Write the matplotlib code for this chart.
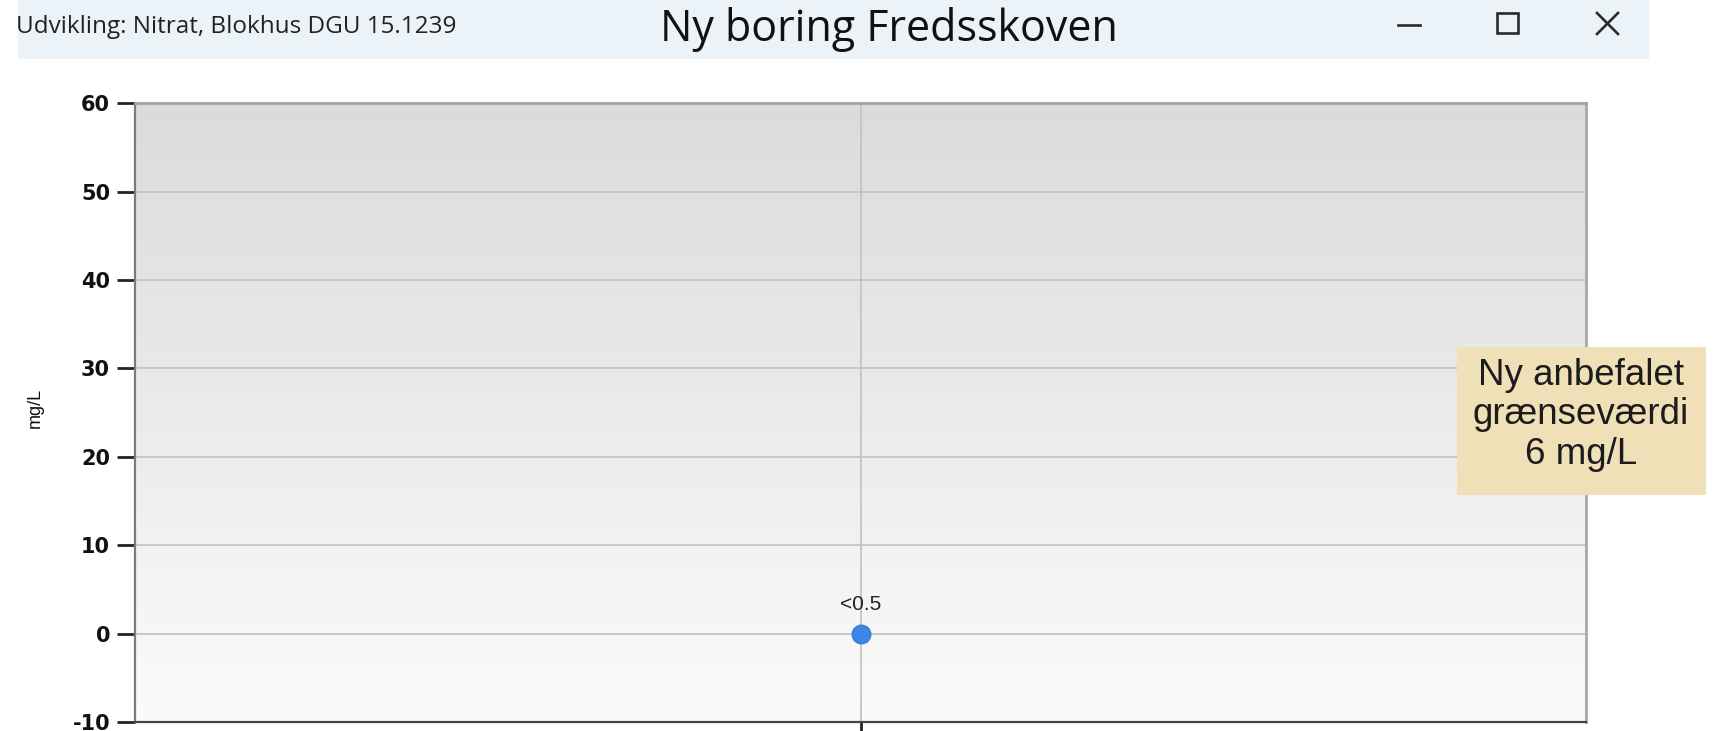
import numpy as np
import matplotlib
matplotlib.use("Agg")
import matplotlib.pyplot as plt
from matplotlib.patches import Rectangle
from matplotlib.lines import Line2D
from matplotlib.colors import LinearSegmentedColormap

# ---- data ----
window_title = "Udvikling: Nitrat, Blokhus DGU 15.1239"
chart_title = "Ny boring Fredsskoven"
sample_x = [0]
nitrate_values = [0.0]
point_labels = ["<0.5"]
y_ticks = [-10, 0, 10, 20, 30, 40, 50, 60]
y_label = "mg/L"
note_text = "Ny anbefalet\ngrænseværdi\n6 mg/L"

plt.rcParams['axes.unicode_minus'] = False

W, H = 1719, 731
fig = plt.figure(figsize=(W / 100, H / 100), dpi=100)
fig.patch.set_facecolor("white")

def fx(px):
    return px / W

def fy(py):
    return 1 - py / H

# title bar band
fig.patches.append(Rectangle((fx(18), fy(59)), fx(1649) - fx(18), fy(0) - fy(59),
                             transform=fig.transFigure, facecolor="#ebf3f8",
                             edgecolor="none", zorder=0))
fig.text(fx(16), fy(27), window_title, fontsize=17.5, family=["Open Sans", "DejaVu Sans"],
         color="#222222", va="center", ha="left")
fig.text(fx(889), fy(29), chart_title, fontsize=31, family=["Open Sans", "DejaVu Sans"],
         color="#111111", va="center", ha="center")

# window controls
ctl = dict(transform=fig.transFigure, color="#2a2a2a", linewidth=1.9)
fig.lines.append(Line2D([fx(1398), fx(1420)], [fy(24.5), fy(24.5)], **ctl))
fig.patches.append(Rectangle((fx(1497), fy(33)), fx(1518) - fx(1497), fy(13) - fy(33),
                             transform=fig.transFigure, facecolor="none",
                             edgecolor="#2a2a2a", linewidth=1.9))
fig.lines.append(Line2D([fx(1597), fx(1618)], [fy(13), fy(34)], **ctl))
fig.lines.append(Line2D([fx(1597), fx(1618)], [fy(34), fy(13)], **ctl))

# axes
ax = fig.add_axes([fx(135), fy(722), fx(1586) - fx(135), fy(103.3) - fy(722)])
ax.set_xlim(-1, 1)
ax.set_ylim(-10, 60)

grad = np.linspace(0, 1, 256).reshape(-1, 1)
cmap = LinearSegmentedColormap.from_list("bg", ["#fbfbfb", "#dbdbdb"])
ax.imshow(grad, cmap=cmap, aspect="auto", extent=[0, 1, 0, 1], origin="lower",
          transform=ax.transAxes, zorder=0)

ax.set_axisbelow(True)
ax.set_yticks(y_ticks)
ax.set_yticklabels([str(t) for t in y_ticks], fontsize=15, fontweight="bold",
                   family="DejaVu Sans", color="#111111")
ax.set_xticks(sample_x)
ax.set_xticklabels([""])
ax.grid(True, color="#c4c4c4", linewidth=1.3)
ax.tick_params(axis="y", length=13, width=2, color="#222222", pad=5)
ax.tick_params(axis="x", length=13, width=2, color="#222222")

ax.spines["left"].set_color("#7a7a7a")
ax.spines["left"].set_linewidth(1.6)
ax.spines["bottom"].set_color("#444444")
ax.spines["bottom"].set_linewidth(1.6)
ax.spines["top"].set_color("#a3a3a3")
ax.spines["top"].set_linewidth(2)
ax.spines["right"].set_color("#a8a8a8")
ax.spines["right"].set_linewidth(2)

ax.plot(sample_x, nitrate_values, "o", markersize=13.5, color="#3d86e6",
        markeredgecolor="#2f74d6", markeredgewidth=0.8, zorder=3)
for x, v, lab in zip(sample_x, nitrate_values, point_labels):
    ax.annotate(lab, (x, v), xytext=(0, 21), textcoords="offset points",
                ha="center", va="center", fontsize=15, family=["Liberation Sans", "DejaVu Sans"],
                color="#222222")

fig.text(fx(35), fy(408), y_label, rotation=90, fontsize=13, family=["Liberation Sans", "DejaVu Sans"],
         color="#111111", va="center", ha="center")

# note box
fig.patches.append(Rectangle((fx(1457), fy(495)), fx(1706) - fx(1457), fy(347) - fy(495),
                             transform=fig.transFigure, facecolor="#efe0b8",
                             edgecolor="none", zorder=5))
fig.text(fx(1581), fy(415), note_text, fontsize=26.5, family=["Liberation Sans", "DejaVu Sans"],
         color="#1c1c1c", ha="center", va="center", linespacing=1.18, zorder=6)

fig.savefig("out.png", dpi=100)
